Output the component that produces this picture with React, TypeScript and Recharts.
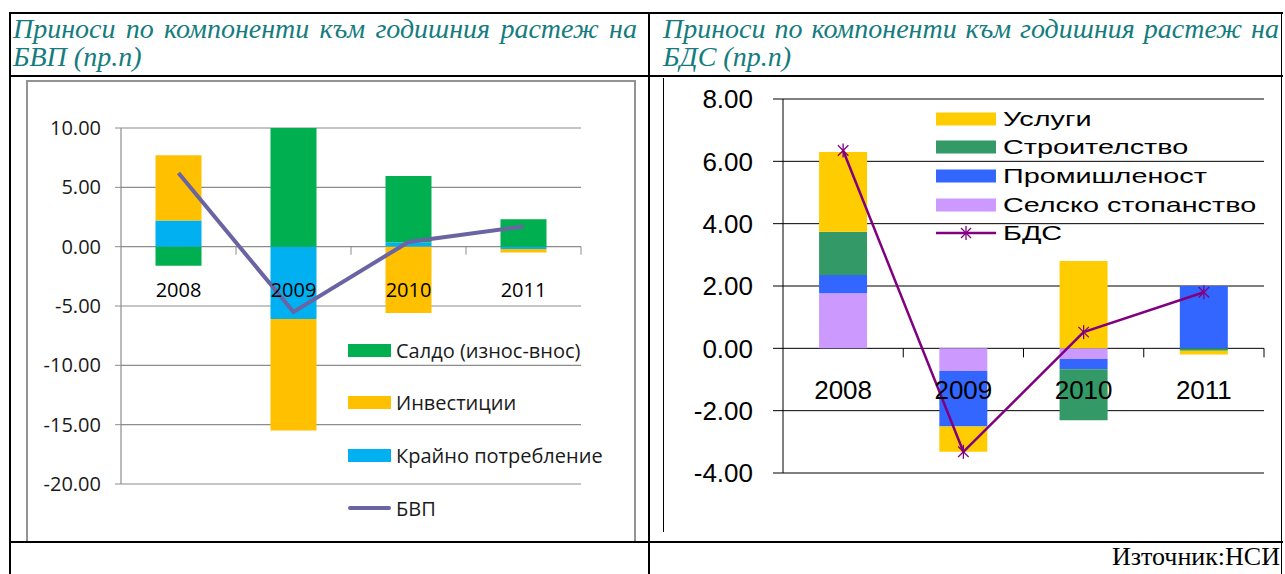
import { Bar, CartesianGrid, ComposedChart, Line, ReferenceDot, XAxis, YAxis } from "recharts";

const years = ["2008", "2009", "2010", "2011"];

// ляв график: приноси към растежа на БВП (пр.п)
const consumption = [2.2, -6.1, 0.35, -0.2];
const investment = [5.5, -9.4, -5.6, -0.3];
const netExports = [-1.6, 10.0, 5.6, 2.3];
const gdp = [6.2, -5.5, 0.4, 1.7];
const gdpTicks = [-20, -15, -10, -5, 0, 5, 10];

// десен график: приноси към растежа на БДС (пр.п)
const agriculture = [1.77, -0.73, -0.34, 0];
const industry = [0.58, -1.78, -0.33, 2.0];
const construction = [1.39, 0, -1.64, -0.08];
const services = [2.56, -0.81, 2.8, -0.12];
const gva = [6.35, -3.32, 0.52, 1.8];
const gvaTicks = [-4, -2, 0, 2, 4, 6, 8];

const gdpData = years.map((year, i) => ({
  year,
  consumption: consumption[i],
  investment: investment[i],
  netExports: netExports[i],
  gdp: gdp[i],
}));

const gvaData = years.map((year, i) => ({
  year,
  agriculture: agriculture[i],
  industry: industry[i],
  construction: construction[i],
  services: services[i],
  gva: gva[i],
}));

const leftLegend = [
  { name: "Салдо (износ-внос)", color: "#00B050", line: false },
  { name: "Инвестиции", color: "#FFC000", line: false },
  { name: "Крайно потребление", color: "#00B0F0", line: false },
  { name: "БВП", color: "#6A64A3", line: true },
];

const rightLegend = [
  { name: "Услуги", color: "#FFCC00", line: false },
  { name: "Строителство", color: "#339966", line: false },
  { name: "Промишленост", color: "#3366FF", line: false },
  { name: "Селско стопанство", color: "#CC99FF", line: false },
  { name: "БДС", color: "#800080", line: true },
];

const TEAL = "#147C7E";

const leftBox = { left: 26, top: 80, width: 608, height: 461 };
const leftMargin = { top: 48, right: 53, bottom: 57, left: 0 };
const leftAxisW = 95;
const leftHalf = (leftBox.width - leftAxisW - leftMargin.right) / years.length / 2;

const rightBox = { left: 664, top: 78, width: 617, height: 454 };
const rightMargin = { top: 21, right: 17, bottom: 59, left: 0 };
const rightAxisW = 119;
const rightHalf = (rightBox.width - rightAxisW - rightMargin.right) / years.length / 2;

const leftFont = "'Open Sans', sans-serif";
const rightFont = "'Liberation Sans', Arial, sans-serif";

const Star = (props: any) => {
  const { cx, cy, index } = props;
  const r = 7;
  return (
    <g key={`star-${index}`} stroke="#800080" strokeWidth={1.3}>
      <line x1={cx} y1={cy - r} x2={cx} y2={cy + r} />
      <line x1={cx - r * 0.75} y1={cy - r * 0.75} x2={cx + r * 0.75} y2={cy + r * 0.75} />
      <line x1={cx - r * 0.75} y1={cy + r * 0.75} x2={cx + r * 0.75} y2={cy - r * 0.75} />
    </g>
  );
};

// етикет на годината под нулевата линия + деление на границата на категорията
const yearLabel = (label: string, half: number, dy: number, tick: number, color: string, font: string, size: number) =>
  (props: any) => {
    const { cx, cy } = props;
    return (
      <g>
        <line x1={cx + half} y1={cy} x2={cx + half} y2={cy + tick} stroke={color} strokeWidth={1} />
        <text x={cx} y={cy + dy} textAnchor="middle" dominantBaseline="central" fontFamily={font} fontSize={size} fill="#000">
          {label}
        </text>
      </g>
    );
  };

const Header = ({ left, width, line1, line2 }: { left: number; width: number; line1: string; line2: string }) => (
  <div
    style={{
      position: "absolute",
      left,
      top: 15,
      width,
      fontFamily: "'Liberation Serif', 'Times New Roman', serif",
      fontStyle: "italic",
      fontSize: 28,
      lineHeight: "28px",
      color: TEAL,
    }}
  >
    <div style={{ textAlign: "justify", textAlignLast: "justify", whiteSpace: "nowrap" as any }}>{line1}</div>
    <div>{line2}</div>
  </div>
);

const hLine = (top: number, left: number, width: number, h = 2) => (
  <div style={{ position: "absolute", top, left, width, height: h, background: "#000" }} />
);
const vLine = (left: number, top: number, height: number, w = 2, color = "#000") => (
  <div style={{ position: "absolute", top, left, width: w, height, background: color }} />
);

export default function App() {
  return (
    <div style={{ position: "absolute", left: 0, top: 0, width: 1285, height: 574, background: "#fff", overflow: "hidden" }}>
      {/* таблица */}
      {hLine(12, 9, 1274)}
      {hLine(75, 9, 1274)}
      {hLine(541, 9, 1274)}
      {vLine(9, 12, 562)}
      {vLine(648, 12, 562)}
      {vLine(1281, 12, 562, 1)}

      <Header left={13} width={624} line1="Приноси по компоненти към годишния растеж на" line2="БВП (пр.п)" />
      <Header left={663} width={616} line1="Приноси по компоненти към годишния растеж на" line2="БДС (пр.п)" />

      <div
        style={{
          position: "absolute",
          right: 5,
          top: 543,
          fontFamily: "'Liberation Serif', 'Times New Roman', serif",
          fontSize: 26,
          lineHeight: "28px",
          color: "#000",
        }}
      >
        Източник:НСИ
      </div>

      {/* ляв график */}
      <div
        style={{
          position: "absolute",
          left: leftBox.left,
          top: leftBox.top,
          width: leftBox.width - 2,
          height: leftBox.height - 2,
          border: "2px solid #939393",
          borderBottomWidth: 0,
          borderRightWidth: 2,
        }}
      />
      <div style={{ position: "absolute", left: leftBox.left, top: leftBox.top }}>
        <ComposedChart
          width={leftBox.width}
          height={leftBox.height}
          data={gdpData}
          margin={leftMargin}
          stackOffset="sign"
          barCategoryGap="30%"
        >
          <CartesianGrid vertical={false} stroke="#8C8C8C" strokeWidth={1.2} />
          <XAxis dataKey="year" hide />
          <YAxis
            width={leftAxisW}
            domain={[-20, 10]}
            ticks={gdpTicks}
            interval={0}
            allowDataOverflow
            tickFormatter={(v: number) => v.toFixed(2)}
            axisLine={{ stroke: "#8C8C8C", strokeWidth: 1.2 }}
            tickLine={{ stroke: "#8C8C8C" }}
            tickSize={6}
            tickMargin={14}
            tick={{ fontFamily: leftFont, fontSize: 20, fill: "#1a1a1a" }}
          />
          <Bar dataKey="consumption" stackId="a" fill="#00B0F0" isAnimationActive={false} />
          <Bar dataKey="investment" stackId="a" fill="#FFC000" isAnimationActive={false} />
          <Bar dataKey="netExports" stackId="a" fill="#00B050" isAnimationActive={false} />
          <Line dataKey="gdp" stroke="#6A64A3" strokeWidth={4} dot={false} isAnimationActive={false} />
          {years.map((y) => (
            <ReferenceDot
              key={y}
              x={y}
              y={0}
              r={0}
              shape={yearLabel(y, leftHalf, 43, 8, "#8C8C8C", leftFont, 20)}
            />
          ))}
        </ComposedChart>
        {leftLegend.map((item, i) => (
          <div
            key={item.name}
            style={{ position: "absolute", left: 322, top: 270 + i * 52.7 - 14, height: 28, display: "flex", alignItems: "center" }}
          >
            <div
              style={{
                width: 43,
                height: item.line ? 4 : 13,
                background: item.color,
                borderRadius: item.line ? 2 : 0,
              }}
            />
            <span style={{ marginLeft: 5, fontFamily: leftFont, fontSize: 20, color: "#1a1a1a", whiteSpace: "nowrap" }}>
              {item.name}
            </span>
          </div>
        ))}
      </div>

      {/* десен график */}
      {vLine(663, 78, 454, 1)}
      <div style={{ position: "absolute", left: rightBox.left, top: rightBox.top }}>
        <ComposedChart
          width={rightBox.width}
          height={rightBox.height}
          data={gvaData}
          margin={rightMargin}
          stackOffset="sign"
          barCategoryGap="30%"
        >
          <CartesianGrid vertical={false} stroke="#000" strokeWidth={1} />
          <XAxis dataKey="year" hide />
          <YAxis
            width={rightAxisW}
            domain={[-4, 8]}
            ticks={gvaTicks}
            interval={0}
            tickFormatter={(v: number) => v.toFixed(2)}
            axisLine={{ stroke: "#000" }}
            tickLine={{ stroke: "#000" }}
            tickSize={10}
            tickMargin={20}
            tick={{ fontFamily: rightFont, fontSize: 26, fill: "#000" }}
          />
          <Bar dataKey="agriculture" stackId="b" fill="#CC99FF" isAnimationActive={false} />
          <Bar dataKey="industry" stackId="b" fill="#3366FF" isAnimationActive={false} />
          <Bar dataKey="construction" stackId="b" fill="#339966" isAnimationActive={false} />
          <Bar dataKey="services" stackId="b" fill="#FFCC00" isAnimationActive={false} />
          <Line dataKey="gva" stroke="#800080" strokeWidth={2.5} dot={Star} isAnimationActive={false} />
          {years.map((y) => (
            <ReferenceDot
              key={y}
              x={y}
              y={0}
              r={0}
              shape={yearLabel(y, rightHalf, 42, 9, "#000", rightFont, 26)}
            />
          ))}
        </ComposedChart>
        {rightLegend.map((item, i) => (
          <div
            key={item.name}
            style={{ position: "absolute", left: 272, top: 40.5 + i * 28.7 - 14, height: 28, display: "flex", alignItems: "center" }}
          >
            <svg width={60} height={16} style={{ display: "block" }}>
              {item.line ? (
                <g stroke={item.color}>
                  <line x1={0} y1={8} x2={60} y2={8} strokeWidth={2.5} />
                  <line x1={30} y1={1} x2={30} y2={15} strokeWidth={1.3} />
                  <line x1={25} y1={3} x2={35} y2={13} strokeWidth={1.3} />
                  <line x1={25} y1={13} x2={35} y2={3} strokeWidth={1.3} />
                </g>
              ) : (
                <rect x={0} y={1.5} width={60} height={13} fill={item.color} />
              )}
            </svg>
            <span
              style={{
                marginLeft: 7,
                fontFamily: rightFont,
                fontSize: 21,
                color: "#000",
                whiteSpace: "nowrap",
                display: "inline-block",
                transform: "scaleX(1.37)",
                transformOrigin: "left center",
              }}
            >
              {item.name}
            </span>
          </div>
        ))}
      </div>
    </div>
  );
}
